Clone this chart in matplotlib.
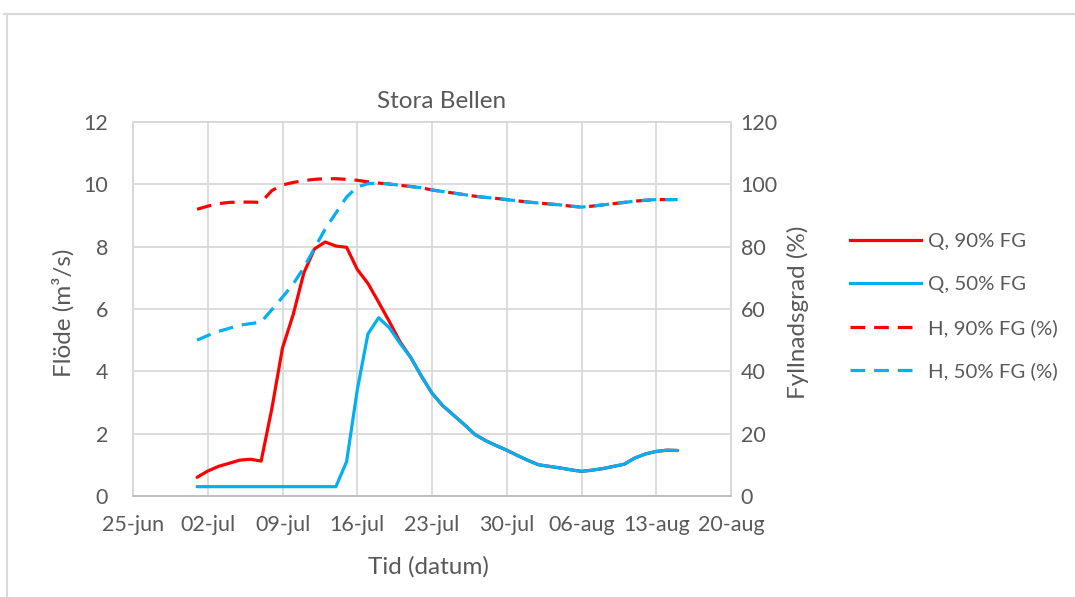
import numpy as np
import matplotlib
matplotlib.use("Agg")
import matplotlib.pyplot as plt
from matplotlib.lines import Line2D

plt.rcParams['font.family'] = ['Lato', 'DejaVu Sans']

# Daily series, 1 July to 15 August
start = np.datetime64('2019-07-01')
n_days = 46
dates = start + np.arange(n_days).astype('timedelta64[D]')

q_90 = [0.6, 0.8, 0.95, 1.05, 1.15, 1.18, 1.12, 2.8, 4.75, 5.82,
        7.16, 7.93, 8.15, 8.02, 7.98, 7.27, 6.82, 6.22, 5.6, 4.95,
        4.45, 3.85, 3.3, 2.9, 2.6, 2.3, 1.98, 1.78, 1.62, 1.47,
        1.3, 1.14, 1.0, 0.95, 0.9, 0.84, 0.79, 0.83, 0.88, 0.95,
        1.02, 1.22, 1.35, 1.43, 1.47, 1.46]
q_50 = [0.3, 0.3, 0.3, 0.3, 0.3, 0.3, 0.3, 0.3, 0.3, 0.3,
        0.3, 0.3, 0.3, 0.3, 1.1, 3.4, 5.2, 5.72, 5.4, 4.9,
        4.45, 3.85, 3.3, 2.9, 2.6, 2.3, 1.98, 1.78, 1.62, 1.47,
        1.3, 1.14, 1.0, 0.95, 0.9, 0.84, 0.79, 0.83, 0.88, 0.95,
        1.02, 1.22, 1.35, 1.43, 1.47, 1.46]
h_90 = [92.0, 93.0, 93.8, 94.2, 94.3, 94.3, 94.2, 98.0, 99.8, 100.6,
        101.2, 101.6, 101.8, 101.8, 101.6, 101.3, 100.8, 100.4, 100.1, 99.7,
        99.3, 98.9, 98.2, 97.7, 97.2, 96.7, 96.2, 95.8, 95.5, 95.1,
        94.7, 94.3, 94.0, 93.7, 93.4, 93.0, 92.7, 93.0, 93.4, 93.8,
        94.2, 94.6, 94.9, 95.1, 95.1, 95.1]
h_50 = [50.0, 51.5, 52.8, 53.8, 54.8, 55.3, 55.8, 59.8, 63.8, 68.0,
        73.3, 79.5, 85.7, 90.8, 95.9, 99.2, 100.2, 100.4, 100.1, 99.7,
        99.3, 98.9, 98.2, 97.7, 97.2, 96.7, 96.2, 95.8, 95.5, 95.1,
        94.7, 94.3, 94.0, 93.7, 93.4, 93.0, 92.7, 93.0, 93.4, 93.8,
        94.2, 94.6, 94.9, 95.1, 95.1, 95.1]

x_tick_dates = np.arange(np.datetime64('2019-06-25'), np.datetime64('2019-08-21'),
                         np.timedelta64(7, 'D'))
x_tick_labels = ['25-jun', '02-jul', '09-jul', '16-jul', '23-jul',
                 '30-jul', '06-aug', '13-aug', '20-aug']
q_ticks = [0, 2, 4, 6, 8, 10, 12]
h_ticks = [0, 20, 40, 60, 80, 100, 120]

labels = ['Q, 90% FG', 'Q, 50% FG', 'H, 90% FG (%)', 'H, 50% FG (%)']

RED = '#FF0000'
BLUE = '#00B0F0'
TXT = '#595959'
GRID = '#D9D9D9'

W, H = 1075, 597
fig = plt.figure(figsize=(W / 100, H / 100), dpi=100)
ax = fig.add_axes([133 / W, 1 - 496 / H, (731 - 133) / W, (496 - 122) / H])
ax2 = ax.twinx()

lw = 2.3
dash = (0, (4.6, 2.8))
ax.plot(dates, q_90, color=RED, lw=lw, solid_capstyle='round', zorder=3)
ax.plot(dates, q_50, color=BLUE, lw=lw, solid_capstyle='round', zorder=4)
ax2.plot(dates, h_90, color=RED, lw=lw, linestyle=dash, zorder=3)
ax2.plot(dates, h_50, color=BLUE, lw=lw, linestyle=dash, zorder=4)

ax.set_xlim(x_tick_dates[0], x_tick_dates[-1])
ax.set_xticks(x_tick_dates)
ax.set_xticklabels(x_tick_labels)
ax.set_ylim(0, 12)
ax.set_yticks(q_ticks)
ax2.set_ylim(0, 120)
ax2.set_yticks(h_ticks)

ax.grid(True, color=GRID, lw=1.3)
ax.set_axisbelow(True)
for a in (ax, ax2):
    for s in a.spines.values():
        s.set_color(GRID)
        s.set_linewidth(1.3)
    a.spines['bottom'].set_color('#BFBFBF')
    a.tick_params(length=0, labelsize=15.5, labelcolor=TXT)
ax.tick_params(axis='x', pad=14)
ax.tick_params(axis='y', pad=18)
ax2.tick_params(axis='y', pad=7)

ax.set_xlabel('Tid (datum)', fontsize=17.5, color=TXT)
ax.set_ylabel('Flöde (m³/s)', fontsize=17.5, color=TXT)
ax2.set_ylabel('Fyllnadsgrad (%)', fontsize=17.5, color=TXT, rotation=90)
ax.xaxis.set_label_coords((428 - 133) / 598, -(567 - 496) / 374)
ax.xaxis.label.set_va('center')
ax.yaxis.set_label_coords((63 - 133) / 598, 0.49)
ax.yaxis.label.set_va('center')
ax2.yaxis.set_label_coords((798 - 133) / 598, 0.49)
ax2.yaxis.label.set_va('center')

fig.text(442 / W, 1 - 101 / H, 'Stora Bellen', ha='center', va='center',
         fontsize=17.5, color=TXT)

handles = [Line2D([], [], color=RED, lw=lw),
           Line2D([], [], color=BLUE, lw=lw),
           Line2D([], [], color=RED, lw=lw, linestyle=dash),
           Line2D([], [], color=BLUE, lw=lw, linestyle=dash)]
fig.legend(handles, labels, loc='upper left', bbox_to_anchor=(842 / W, 1 - 225 / H),
           frameon=False, fontsize=14.7, labelcolor=TXT, handlelength=3.45,
           handletextpad=0.34, labelspacing=1.25, borderaxespad=0)

# chart area border (top and left edges)
fig.add_artist(Line2D([4 / W, 1], [1 - 13.5 / H, 1 - 13.5 / H],
                      color=GRID, lw=1.5, transform=fig.transFigure))
fig.add_artist(Line2D([7 / W, 7 / W], [0, 1 - 13.5 / H],
                      color=GRID, lw=1.5, transform=fig.transFigure))

fig.savefig('out.png', dpi=100)
